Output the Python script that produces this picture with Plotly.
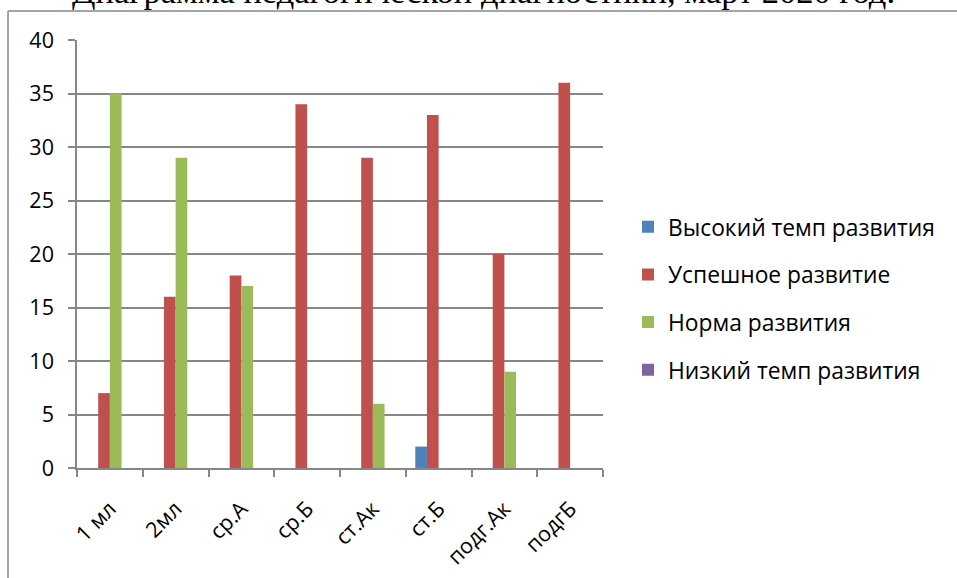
import plotly.graph_objects as go

categories = ["1 мл", "2мл", "ср.А", "ср.Б", "ст.Ак", "ст.Б", "подг.Ак", "подгБ"]
series_names = ["Высокий темп развития", "Успешное развитие", "Норма развития", "Низкий темп развития"]
high_pace = [0, 0, 0, 0, 0, 2, 0, 0]
successful = [7, 16, 18, 34, 29, 33, 20, 36]
norm = [35, 29, 17, 0, 6, 0, 9, 0]
low_pace = [0, 0, 0, 0, 0, 0, 0, 0]
colors = ["#4F81BD", "#C0504D", "#9BBB59", "#8064A2"]
title_text = "Диаграмма педагогической диагностики, март 2020 год."

W, H = 957, 578
L, R, T, B = 77, 354, 40, 110
pw = W - L - R
ph = H - T - B

def px_x(X):
    return (X - L) / pw

def px_y(Y):
    return 1 - (Y - T) / ph

fig = go.Figure()
for name, vals, col in zip(series_names, [high_pace, successful, norm, low_pace], colors):
    fig.add_trace(go.Bar(x=categories, y=vals, name=name, marker_color=col,
                         marker_line_width=0, legendgroup=name))

grid = "#878787"
font = "'Open Sans', 'Noto Sans', sans-serif"
fig.update_layout(
    width=W, height=H,
    margin=dict(l=L, r=R, t=T, b=B, autoexpand=False),
    paper_bgcolor="white", plot_bgcolor="white",
    barmode="group", bargap=0.29, bargroupgap=0,
    font=dict(family=font, size=21, color="#000000"),
    showlegend=True,
    legend=dict(x=px_x(628), y=px_y(298.5), xanchor="left", yanchor="middle",
                font=dict(family=font, size=22.8, color="#000000"),
                tracegroupgap=15, bgcolor="rgba(0,0,0,0)"),
    xaxis=dict(type="category", showgrid=False, showline=True, linecolor=grid, linewidth=1.5,
               ticks="outside", ticklen=7, tickcolor=grid, tickwidth=1.5, tickson="boundaries",
               tickangle=-45, ticklabelstandoff=18,
               tickfont=dict(family=font, size=21.5, color="#000000"),
               range=[-0.5, 7.5], fixedrange=True),
    yaxis=dict(range=[0, 40], dtick=5, showgrid=True, gridcolor=grid, gridwidth=1.5,
               showline=True, linecolor=grid, linewidth=1.5, zeroline=False,
               ticks="outside", ticklen=7, tickcolor=grid, tickwidth=1.5,
               ticklabelstandoff=10,
               tickfont=dict(family=font, size=21.5, color="#000000")),
)

fig.add_annotation(text=title_text, xref="paper", yref="paper",
                   x=px_x(70), y=px_y(12), xanchor="left", yanchor="bottom",
                   showarrow=False,
                   font=dict(family="Liberation Serif, Times New Roman, serif", size=34.5, color="#000000"))

# outer chart frame
fig.add_shape(type="line", xref="paper", yref="paper", x0=px_x(8), x1=px_x(8),
              y0=px_y(11), y1=px_y(600), line=dict(color=grid, width=1.5))
fig.add_shape(type="line", xref="paper", yref="paper", x0=px_x(8), x1=px_x(980),
              y0=px_y(11), y1=px_y(11), line=dict(color=grid, width=1.5))

fig.write_html("out.html", config={"displayModeBar": False},
               post_script="document.body.style.margin='0';document.body.style.overflow='hidden';")
